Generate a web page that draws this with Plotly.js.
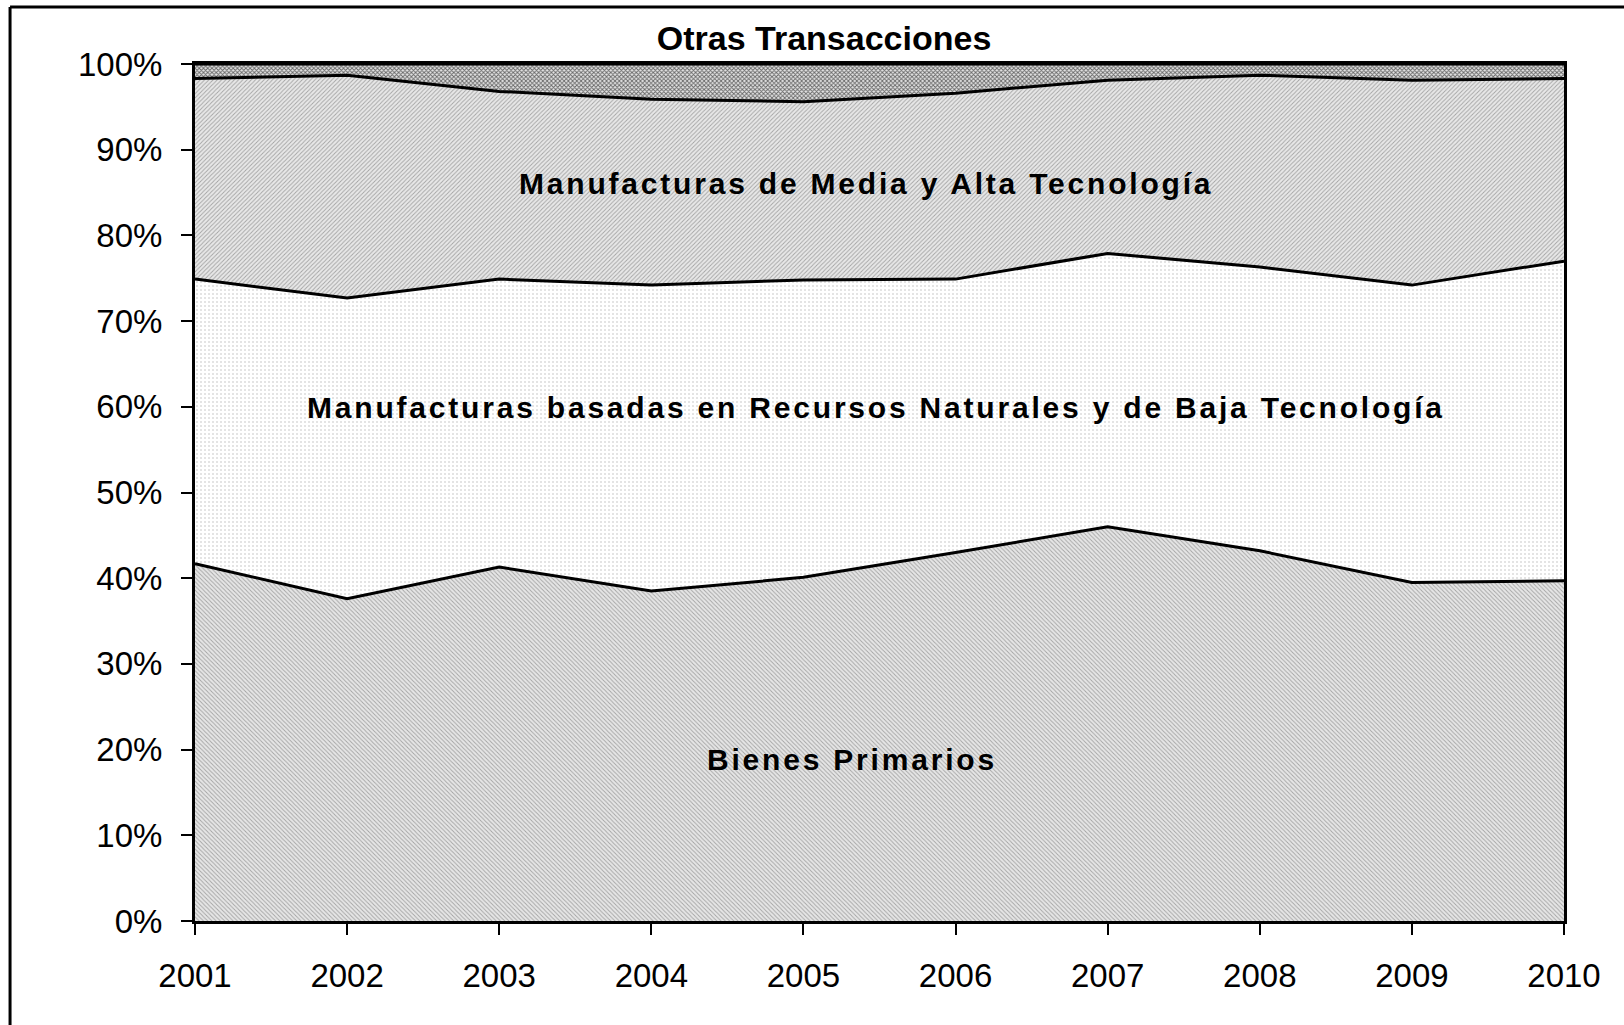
<!DOCTYPE html>
<html>
<head>
<meta charset="utf-8">
<script src="https://cdn.plot.ly/plotly-3.0.1.min.js"></script>
<style>
  html, body { margin: 0; padding: 0; background: #fff; }
  #plot1 { width: 1624px; height: 1025px; }
  .annotation-text { letter-spacing: 2.8px; }
</style>
</head>
<body>
<div id="plot1"></div>
<script>
var years = [2001, 2002, 2003, 2004, 2005, 2006, 2007, 2008, 2009, 2010];

// shares in %
var bienesPrimarios = [41.7, 37.6, 41.3, 38.5, 40.1, 43.0, 46.0, 43.2, 39.5, 39.7];
var manufRecursos   = [33.2, 35.1, 33.6, 35.7, 34.7, 31.9, 31.9, 33.1, 34.7, 37.3];
var manufMediaAlta  = [23.4, 26.0, 21.9, 21.7, 20.8, 21.7, 20.2, 22.4, 23.9, 21.3];
var otras           = [1.7, 1.3, 3.2, 4.1, 4.4, 3.4, 1.9, 1.3, 1.9, 1.7];

var yTicks = [0, 10, 20, 30, 40, 50, 60, 70, 80, 90, 100];
var yTickText = ['0%', '10%', '20%', '30%', '40%', '50%', '60%', '70%', '80%', '90%', '100%'];

var line = {color: '#000', width: 3};

var trace1 = {
    x: years, y: bienesPrimarios, name: 'Bienes Primarios',
    type: 'scatter', mode: 'lines', stackgroup: 'one', line: line,
    fillcolor: '#d4d4d4',
    fillpattern: {shape: '\\', size: 3, solidity: 0.3, fgcolor: '#a4a4a4', bgcolor: '#e6e6e6'}
};
var trace2 = {
    x: years, y: manufRecursos, name: 'Manufacturas basadas en Recursos Naturales y de Baja Tecnología',
    type: 'scatter', mode: 'lines', stackgroup: 'one', line: line,
    fillcolor: '#fbfbfb',
    fillpattern: {shape: '.', size: 4, solidity: 0.2, fgcolor: '#dcdcdc', bgcolor: '#ffffff'}
};
var trace3 = {
    x: years, y: manufMediaAlta, name: 'Manufacturas de Media y Alta Tecnología',
    type: 'scatter', mode: 'lines', stackgroup: 'one', line: line,
    fillcolor: '#d8d8d8',
    fillpattern: {shape: '/', size: 3, solidity: 0.3, fgcolor: '#a4a4a4', bgcolor: '#e8e8e8'}
};
var trace4 = {
    x: years, y: otras, name: 'Otras Transacciones',
    type: 'scatter', mode: 'lines', stackgroup: 'one', line: line,
    fillcolor: '#aaaaaa',
    fillpattern: {shape: 'x', size: 3, solidity: 0.5, fgcolor: '#666666', bgcolor: '#e4e4e4'}
};

var data = [trace1, trace2, trace3, trace4];

var labelFont = {family: 'Liberation Sans, Arial, sans-serif', size: 30, color: '#000', weight: 'bold'};

var layout = {
    width: 1624,
    height: 1025,
    showlegend: false,
    hovermode: false,
    paper_bgcolor: '#fff',
    plot_bgcolor: '#fff',
    font: {family: 'Liberation Sans, Arial, sans-serif', size: 33, color: '#000'},
    title: {
        text: '<b>Otras Transacciones</b>',
        font: {family: 'Liberation Sans, Arial, sans-serif', size: 34, color: '#000'},
        xref: 'paper', x: 0.4595, xanchor: 'center',
        yref: 'container', y: 0.963, yanchor: 'middle'
    },
    xaxis: {
        range: [2001, 2010],
        tickvals: years,
        ticks: 'outside', ticklen: 11, tickwidth: 2, tickcolor: '#000',
        showline: true, linecolor: '#000', linewidth: 3, mirror: true,
        showgrid: false, zeroline: false,
        ticklabelstandoff: 12,
        tickfont: {size: 33}
    },
    yaxis: {
        range: [0, 100],
        tickvals: yTicks, ticktext: yTickText,
        ticks: 'outside', ticklen: 11, tickwidth: 2, tickcolor: '#000',
        showline: true, linecolor: '#000', linewidth: 3, mirror: true,
        showgrid: false, zeroline: false,
        ticklabelstandoff: 12,
        tickfont: {size: 33}
    },
    annotations: [
        {text: '<b>Manufacturas de Media y Alta Tecnología</b>', x: 2005.41, y: 86.1, xref: 'x', yref: 'y', showarrow: false, font: labelFont},
        {text: '<b>Manufacturas basadas en Recursos Naturales y de Baja Tecnología</b>', x: 2005.48, y: 59.9, xref: 'x', yref: 'y', showarrow: false, font: labelFont},
        {text: '<b>Bienes Primarios</b>', x: 2005.32, y: 18.9, xref: 'x', yref: 'y', showarrow: false, font: labelFont}
    ],
    shapes: [
        // outer frame of the original figure (left and top edges only)
        {type: 'line', xref: 'paper', yref: 'paper', x0: -0.1351, x1: -0.1351, y0: -0.2, y1: 1.0665, line: {color: '#000', width: 3}},
        {type: 'line', xref: 'paper', yref: 'paper', x0: -0.1351, x1: 1.1, y0: 1.0665, y1: 1.0665, line: {color: '#000', width: 3}}
    ],
    margin: {l: 195, r: 60, t: 64, b: 104, pad: 0}
};

var config = {responsive: false, displayModeBar: false, staticPlot: true};

Plotly.newPlot('plot1', data, layout, config);
</script>
</body>
</html>
